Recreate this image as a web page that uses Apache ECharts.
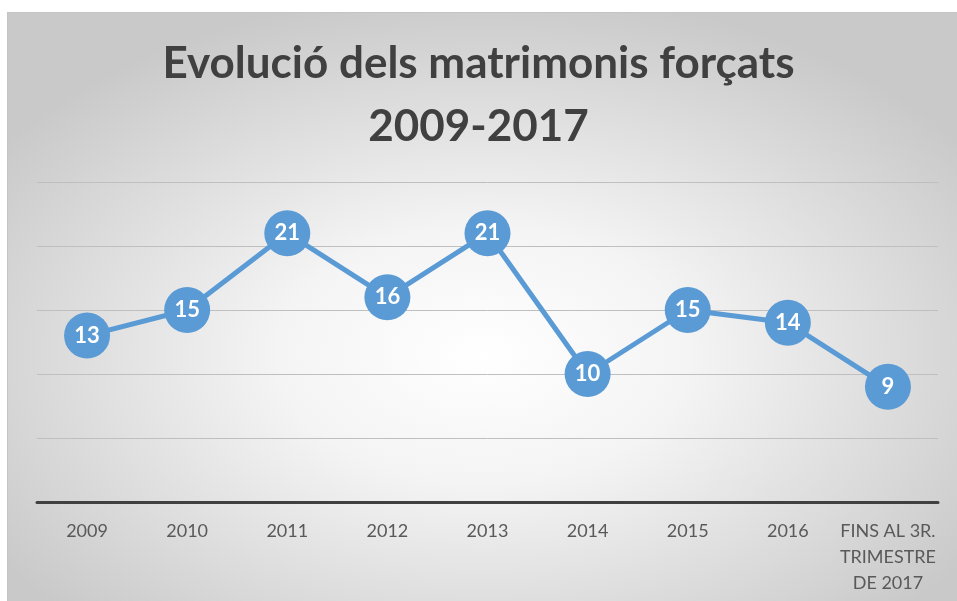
<!DOCTYPE html>
<html>
<head>
<meta charset="utf-8">
<script src="https://cdn.jsdelivr.net/npm/echarts@6/dist/echarts.min.js"></script>
<style>
body { margin: 0; background: #fff; }
#fons {
    position: absolute; left: 7px; top: 12px; width: 950px; height: 589px;
    border-top: 1px solid #c4c4c4; border-left: 1px solid #c4c4c4;
    background: radial-gradient(ellipse 62% 62% at 50% 58%, #ffffff 0%, #f4f4f4 35%, #c9c9c9 100%);
}
#grafic { position: absolute; left: 0; top: 0; width: 957px; height: 601px; }
</style>
</head>
<body>
<div id="fons"></div>
<div id="grafic"></div>
<script>
var anys = ['2009', '2010', '2011', '2012', '2013', '2014', '2015', '2016', 'FINS AL 3R.\nTRIMESTRE\nDE 2017'];
var matrimonis = [13, 15, 21, 16, 21, 10, 15, 14, 9];
var titol = 'Evolució dels matrimonis forçats\n2009-2017';

var myChart = echarts.init(document.getElementById('grafic'));
var option =
{
    backgroundColor : 'transparent',
    title :
    {
        text : titol,
        left : 'center',
        top : 27,
        textStyle :
        {
            fontFamily : 'Lato',
            fontWeight : 'bold',
            fontSize : 44,
            lineHeight : 63,
            color : '#404040'
        }
    },
    grid :
    {
        left : 37,
        right : 19,
        top : 182,
        bottom : 99
    },
    xAxis :
    {
        type : 'category',
        data : anys,
        boundaryGap : true,
        axisLine : { lineStyle : { color : '#404040', width : 3 } },
        axisTick : { show : false },
        axisLabel :
        {
            interval : 0,
            margin : 16,
            fontFamily : 'Lato',
            fontSize : 18,
            lineHeight : 26,
            color : '#595959'
        }
    },
    yAxis :
    {
        type : 'value',
        min : 0,
        max : 25,
        interval : 5,
        axisLabel : { show : false },
        axisLine : { show : false },
        axisTick : { show : false },
        splitLine : { lineStyle : { color : '#bfbfbf', width : 1 } }
    },
    series : [
        {
            type : 'line',
            data : matrimonis,
            symbol : 'circle',
            symbolSize : 46,
            lineStyle : { color : '#5b9bd5', width : 5 },
            itemStyle : { color : '#5b9bd5' },
            label :
            {
                show : true,
                position : 'inside',
                fontFamily : 'Lato',
                fontWeight : 'bold',
                fontSize : 22,
                color : '#fff'
            }
        }
    ]
};
myChart.setOption(option);
</script>
</body>
</html>
